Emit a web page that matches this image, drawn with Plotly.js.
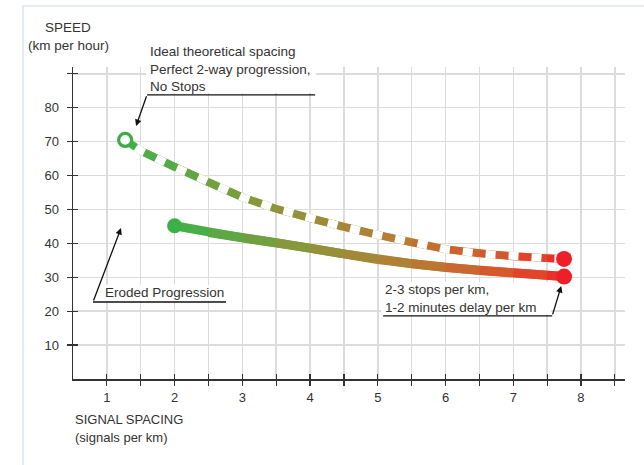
<!DOCTYPE html>
<html>
<head>
<meta charset="utf-8">
<script src="https://cdn.plot.ly/plotly-3.0.1.min.js"></script>
<style>html,body{margin:0;padding:0;background:#fff;}#chart{width:644px;height:465px;}</style>
</head>
<body>
<div id="chart"></div>
<script>
// ---- data ----
const xIdeal = [1.27, 1.5, 2, 2.5, 3, 3.5, 4, 4.5, 5, 5.5, 6, 6.5, 7, 7.5, 7.75];
const yIdeal = [70.5, 67.3, 62.5, 58.0, 53.6, 50.2, 47.4, 44.8, 42.5, 40.2, 38.3, 37.0, 36.1, 35.6, 35.4];
const xEroded = [2, 2.5, 3, 3.5, 4, 4.5, 5, 5.5, 6, 6.5, 7, 7.5, 7.75];
const yEroded = [45.2, 43.2, 41.6, 40.2, 38.6, 36.9, 35.2, 34.0, 32.9, 32.0, 31.3, 30.6, 30.2];
const xTickVals = [1, 1.5, 2, 2.5, 3, 3.5, 4, 4.5, 5, 5.5, 6, 6.5, 7, 7.5, 8, 8.5];
const xTickText = ['1', '', '2', '', '3', '', '4', '', '5', '', '6', '', '7', '', '8', ''];
const yTickVals = [10, 20, 30, 40, 50, 60, 70, 80, 90];
const yTickText = ['10', '20', '30', '40', '50', '60', '70', '80', ''];
const labelIdeal = 'Ideal theoretical spacing<br>Perfect 2-way progression,<br>No Stops';
const labelEroded = 'Eroded Progression';
const labelStops = '2-3 stops per km,<br>1-2 minutes delay per km';

// ---- styling helpers ----
const FONT = 'Liberation Sans, Arial, Helvetica, sans-serif';
const TXT = '#333333';
const stops = [[0, [61, 179, 74]], [0.3, [134, 152, 60]], [0.6, [182, 126, 52]], [0.86, [218, 84, 44]], [1, [236, 42, 40]]];
function colorAt(t) {
  t = Math.max(0, Math.min(1, t));
  for (let i = 0; i < stops.length - 1; i++) {
    const a = stops[i], b = stops[i + 1];
    if (t <= b[0]) {
      const f = (t - a[0]) / (b[0] - a[0]);
      const c = a[1].map((v, k) => Math.round(v + (b[1][k] - v) * f));
      return 'rgb(' + c.join(',') + ')';
    }
  }
  return 'rgb(' + stops[stops.length - 1][1].join(',') + ')';
}
function gradientSegments(xs, ys, width) {
  const out = [];
  const x0 = xs[0], x1 = xs[xs.length - 1];
  for (let i = 0; i < xs.length - 1; i++) {
    const j = Math.min(i + 3, xs.length);
    const tm = ((xs[i] + xs[i + 1]) / 2 - x0) / (x1 - x0);
    out.push({
      x: xs.slice(i, j), y: ys.slice(i, j), mode: 'lines', type: 'scatter',
      line: {color: colorAt(tm), width: width}, hoverinfo: 'skip', showlegend: false
    });
  }
  return out;
}

const traces = [];
gradientSegments(xEroded, yEroded, 9).forEach(t => traces.push(t));
// faint outline for the dashed line
traces.push({x: xIdeal, y: yIdeal, mode: 'lines', type: 'scatter',
  line: {color: '#e4ead2', width: 8.5}, hoverinfo: 'skip', showlegend: false});
gradientSegments(xIdeal, yIdeal, 7.5).forEach(t => traces.push(t));
// white gaps of the dashed line
traces.push({x: xIdeal, y: yIdeal, mode: 'lines', type: 'scatter',
  line: {color: '#ffffff', width: 8, dash: '0px,13px,10px,0px'}, hoverinfo: 'skip', showlegend: false});
// end point markers
traces.push({x: [xIdeal[0]], y: [yIdeal[0]], mode: 'markers', type: 'scatter',
  marker: {size: 13, color: '#ffffff', line: {color: '#3dab48', width: 3.2}}, hoverinfo: 'skip', showlegend: false});
traces.push({x: [xEroded[0]], y: [yEroded[0]], mode: 'markers', type: 'scatter',
  marker: {size: 15, color: '#3db04a'}, hoverinfo: 'skip', showlegend: false});
traces.push({x: [xIdeal[xIdeal.length - 1], xEroded[xEroded.length - 1]],
  y: [yIdeal[yIdeal.length - 1], yEroded[yEroded.length - 1]], mode: 'markers', type: 'scatter',
  marker: {size: 16, color: '#ed1f28'}, hoverinfo: 'skip', showlegend: false});
// helper trace for the overlay axes (inner half of the crossing ticks)
traces.push({x: [], y: [], xaxis: 'x2', yaxis: 'y2', mode: 'markers', type: 'scatter', hoverinfo: 'skip', showlegend: false});

const XR = [0.5, 8.65], YR = [0, 92];
const tickFont = {family: FONT, size: 13, color: TXT};
const annFont = {family: FONT, size: 13.5, color: TXT};
const WHITE_BOX = {color: 'rgba(0,0,0,0)', width: 0};

const layout = {
  width: 644, height: 465,
  margin: {l: 73, r: 19, t: 67, b: 86, pad: 0},
  paper_bgcolor: '#ffffff', plot_bgcolor: '#ffffff',
  showlegend: false, hovermode: false,
  xaxis: {
    range: XR, tickvals: xTickVals, ticktext: xTickText,
    showgrid: true, gridcolor: '#dcdcdc', gridwidth: 1.5, zeroline: false,
    showline: true, linecolor: '#333333', linewidth: 1.5,
    ticks: 'outside', ticklen: 5, tickwidth: 1.2, tickcolor: '#333333',
    tickfont: tickFont, ticklabelstandoff: 1, fixedrange: true
  },
  yaxis: {
    range: YR, tickvals: yTickVals, ticktext: yTickText,
    showgrid: true, gridcolor: '#dcdcdc', gridwidth: 1.5, zeroline: false,
    showline: true, linecolor: '#333333', linewidth: 1.5,
    ticks: 'outside', ticklen: 5, tickwidth: 1.2, tickcolor: '#333333',
    tickfont: tickFont, ticklabelstandoff: 5, fixedrange: true
  },
  xaxis2: {
    overlaying: 'x', anchor: 'y2', range: XR, tickvals: xTickVals, showticklabels: false,
    showgrid: false, zeroline: false, showline: false,
    ticks: 'inside', ticklen: 5, tickwidth: 1.2, tickcolor: '#333333', fixedrange: true
  },
  yaxis2: {
    overlaying: 'y', anchor: 'x2', range: YR, tickvals: yTickVals, showticklabels: false,
    showgrid: false, zeroline: false, showline: false,
    ticks: 'inside', ticklen: 5, tickwidth: 1.2, tickcolor: '#333333', fixedrange: true
  },
  shapes: [
    {type: 'rect', xref: 'paper', yref: 'paper', x0: -0.0906, x1: 1.2, y0: -0.5, y1: 1.1955,
      line: {color: '#dbe6ef', width: 1.5}, fillcolor: 'rgba(0,0,0,0)', layer: 'below'},
    // white backgrounds behind the callout texts
    {type: 'rect', xref: 'x', yref: 'y', x0: 1.578, x1: 4.09, y0: 84.3, y1: 100, fillcolor: '#ffffff', line: WHITE_BOX},
    {type: 'rect', xref: 'x', yref: 'y', x0: 0.914, x1: 2.775, y0: 23.1, y1: 27.8, fillcolor: '#ffffff', line: WHITE_BOX},
    {type: 'rect', xref: 'x', yref: 'y', x0: 5.05, x1: 7.56, y0: 19.0, y1: 28.6, fillcolor: '#ffffff', line: WHITE_BOX},
    // leader lines
    {type: 'line', xref: 'x', yref: 'y', x0: 1.593, x1: 4.075, y0: 83.8, y1: 83.8, line: {color: '#111', width: 1.3}},
    {type: 'line', xref: 'x', yref: 'y', x0: 0.795, x1: 2.76, y0: 22.7, y1: 22.7, line: {color: '#111', width: 1.3}},
    {type: 'line', xref: 'x', yref: 'y', x0: 5.079, x1: 7.575, y0: 18.6, y1: 18.6, line: {color: '#111', width: 1.3}}
  ],
  annotations: [
    {xref: 'paper', yref: 'paper', x: -0.009, y: 1.128, text: 'SPEED', showarrow: false,
      xanchor: 'center', yanchor: 'middle', font: annFont},
    {xref: 'paper', yref: 'paper', x: -0.009, y: 1.0705, text: '(km per hour)', showarrow: false,
      xanchor: 'center', yanchor: 'middle', font: annFont},
    {xref: 'paper', yref: 'paper', x: 0, y: -0.131, text: 'SIGNAL SPACING', showarrow: false,
      xanchor: 'left', yanchor: 'middle', font: {family: FONT, size: 13, color: TXT}},
    {xref: 'paper', yref: 'paper', x: 0, y: -0.186, text: '(signals per km)', showarrow: false,
      xanchor: 'left', yanchor: 'middle', font: {family: FONT, size: 13, color: TXT}},
    {xref: 'x', yref: 'y', x: 1.60, y: 91.4, text: labelIdeal, showarrow: false, align: 'left',
      xanchor: 'left', yanchor: 'middle', font: annFont},
    {xref: 'x', yref: 'y', x: 0.94, y: 25.4, text: labelEroded, showarrow: false, align: 'left',
      xanchor: 'left', yanchor: 'middle', font: annFont},
    {xref: 'x', yref: 'y', x: 5.07, y: 23.8, text: labelStops, showarrow: false, align: 'left',
      xanchor: 'left', yanchor: 'middle', font: annFont},
    {xref: 'x', yref: 'y', axref: 'x', ayref: 'y', x: 1.431, y: 74.6, ax: 1.593, ay: 83.8, text: '',
      showarrow: true, arrowhead: 2, arrowsize: 1, arrowwidth: 1.3, arrowcolor: '#111'},
    {xref: 'x', yref: 'y', axref: 'x', ayref: 'y', x: 1.209, y: 44.5, ax: 0.795, ay: 22.7, text: '',
      showarrow: true, arrowhead: 2, arrowsize: 1, arrowwidth: 1.3, arrowcolor: '#111'},
    {xref: 'x', yref: 'y', axref: 'x', ayref: 'y', x: 7.708, y: 27.4, ax: 7.575, ay: 18.6, text: '',
      showarrow: true, arrowhead: 2, arrowsize: 1, arrowwidth: 1.3, arrowcolor: '#111'}
  ]
};

Plotly.newPlot('chart', traces, layout, {displayModeBar: false, staticPlot: true});
</script>
</body>
</html>
